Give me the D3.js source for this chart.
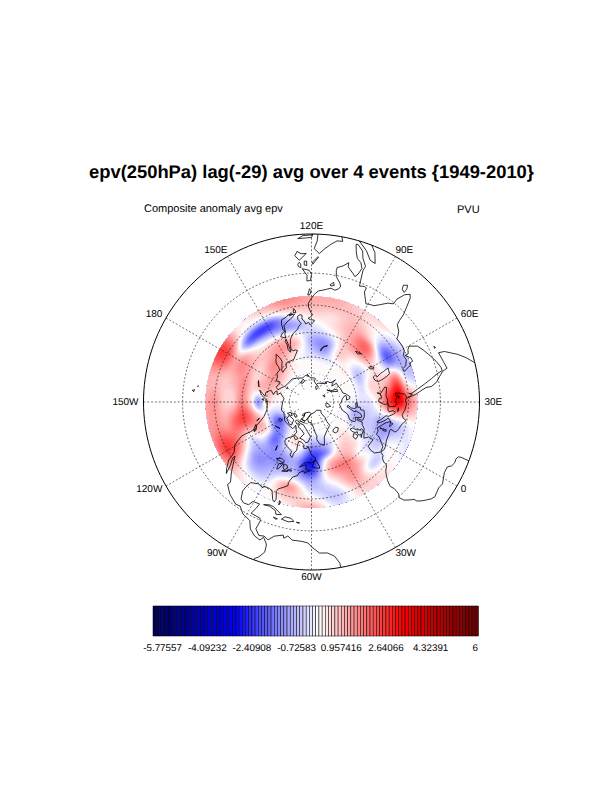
<![CDATA[<!DOCTYPE html>
<html><head><meta charset="utf-8">
<style>html,body{margin:0;padding:0;background:#fff}svg{display:block}text{font-family:"Liberation Sans",Arial,sans-serif;fill:#000;text-rendering:geometricPrecision}</style>
<script src="https://cdn.jsdelivr.net/npm/d3@7"></script></head><body>
<svg id="c" width="612" height="792"></svg>
<script>
const titleText = "epv(250hPa) lag(-29) avg over 4 events {1949-2010}";
const leftText = "Composite anomaly avg epv";
const rightText = "PVU";
const colorbarLabels = ["-5.77557","-4.09232","-2.40908","-0.72583","0.957416","2.64066","4.32391","6"];
const meridianLabels = [[120,"120E"],[90,"90E"],[60,"60E"],[30,"30E"],[0,"0"],[-30,"30W"],[-60,"60W"],[-90,"90W"],[-120,"120W"],[-150,"150W"],[180,"180"],[150,"150E"]];
const gridLats = [15,30,45,60,75];

// field rows: latitudes, columns: meridians listed clockwise from 120E
const fieldLats = [25,30,35,40,45,50,55,60,65,70];
const fieldLons = [120,105,90,75,60,45,30,15,0,-15,-30,-45,-60,-75,-90,-105,-120,-135,-150,-165,180,165,150,135];
const fieldValues = [
 [1.1,.9,.4,-.3,-.6,-1.0,-.7,-.3,.1,0],
 [1.0,.8,.4,.3,-.3,-1.2,-1.2,-.4,0,0],
 [.5,.6,.9,1.0,.8,.6,.5,-.1,0,0],
 [.5,-.1,.2,1.8,1.6,.3,0,.2,0,0],
 [-.4,-1.2,-2.0,-.3,.5,-.3,-.8,0,0,0],
 [-.7,-.3,1.8,1.0,.6,.5,-.4,-.1,0,0],
 [.7,1.8,3.2,2.5,.9,-.2,-.4,-.3,-.1,0],
 [0,-.4,-.8,-1.1,-.9,-.6,-.8,-1.0,-.3,0],
 [-.3,0,-.1,-.8,-.6,-.5,-.4,-.4,0,0],
 [.4,.2,-.6,.1,-.1,.4,.5,.4,0,0],
 [.4,.7,1.2,1.4,1.6,.9,.4,-.1,0,0],
 [-.4,-.7,-.3,.4,.9,.3,-1.5,-1.0,-.4,0],
 [1.1,.2,-.6,-1.2,-2.4,-2.9,-2.3,-1.3,-.5,0],
 [.1,.7,1.2,-.3,-.9,-1.1,-.4,.2,.1,0],
 [0,-.1,-.5,-.9,-1.3,-1.3,-.6,.1,.1,0],
 [.5,.2,-.7,-1.3,-1.2,-1.2,-1.8,-1.6,-1,-.2],
 [1.4,2.4,2.0,.8,-.2,.5,.6,-1.0,-2.0,-.8],
 [1.2,1.4,1.2,1.9,2.3,1.6,.5,-.3,-.6,-.3],
 [1.0,1.3,.6,.6,1.5,.5,-1.3,.5,.1,0],
 [1.0,.9,.7,1.0,1.4,.6,.8,.9,.5,.1],
 [2.4,2.3,1.1,1.4,1.0,.5,.8,1.2,.8,.1],
 [.3,-.1,-1.9,-.2,.6,.9,1.4,1.2,.6,.1],
 [.8,-.1,-2.3,-1.0,.7,1.3,.9,.5,.2,0],
 [1.5,.9,-.5,-1.2,.1,.8,.3,-.1,.1,0]
];

// coastlines, [lon,lat]
const coastAfrica = [[9.5,0],[9.7,3],[9.5,4],[8.5,4.5],[7,4.4],[5.5,5],[4.4,6.3],[2,6.3],[0,5.6],[-2,4.8],[-4,5.2],[-7.5,4.4],[-9,5],[-11.5,6.9],[-13.2,8.5],[-13.5,9.8],[-15,11],[-16.7,12.5],[-17.5,14.7],[-16.5,16],[-16.3,19],[-17,21],[-16,23.7],[-14.5,26],[-13,27.7],[-10,29.5],[-9.7,31.5],[-8.5,33.3],[-6.8,34],[-6,35.8],[-5.3,35.9],[-3,35.3],[-1,35.7],[3,36.8],[7,37],[10,37.3],[11,36.9],[10.3,34.5],[10.7,33.8],[13,32.9],[15.5,32.3],[19,30.3],[20,32],[22,32.9],[25,31.7],[29,31],[31,31.5],[32.3,31.2],[32.6,30],[33.5,28],[34,26.5],[35.7,23.9],[37.2,21],[37.4,18.5],[39,16],[41,14.5],[43.2,12.5],[44,10.5],[47,11.2],[51.2,11.9],[50.8,9.5],[48,5],[46,2.5],[43.5,0]];
const coastEurasia = [[32.6,30],[34.3,27.9],[34.9,29.5],[35,28],[37,25],[39,21.5],[41,18],[42.7,15],[43.5,12.7],[45,12.8],[48,14],[52,16],[55,17.5],[57.8,19],[59.8,22.5],[58.5,23.7],[56.5,24.5],[56.3,26.2],[54,24.2],[52,24],[51.5,25.9],[50.2,25.5],[50,26.7],[48.2,29.5],[50,30],[51,28],[54,26.6],[56.8,27],[59,25.5],[61.5,25.1],[66.5,25.4],[67.5,24],[69,22.5],[72,21],[72.8,19],[73.5,16],[75,12.5],[76.5,9],[77.5,8],[79,9.5],[80.3,13],[80.2,15.5],[82.3,16.7],[85,19.5],[87,21.3],[89,21.8],[91,22.5],[92.3,20.8],[94.3,18],[94.3,16],[95.5,15.8],[97.5,16.5],[98,14],[98.6,10],[98.3,8],[100.3,5.5],[101.3,3],[103.5,1.3],[104.2,1.4],[103.4,4],[102.3,6.2],[100.5,7.3],[99.3,9.3],[100,12],[100.9,13.4],[102,12.5],[104.8,10.4],[105,8.7],[106.8,10.4],[109.2,11.7],[109.3,13],[108.8,15.5],[106.5,18],[105.8,19.5],[106.8,20.8],[108.2,21.6],[110.3,21],[113.5,22.2],[116.5,23],[118.5,24.7],[120,26.5],[121.8,29],[121.8,31],[120.3,34],[119.3,35],[120.8,36.5],[122.4,37],[120.8,37.8],[118,38],[118.5,39.1],[121,40.8],[122,39.2],[124.3,40],[125,38.5],[126.5,37.2],[126.3,35],[127.5,34.7],[129.2,35.3],[129.4,37],[127.5,39.5],[129.7,41],[130.7,42.3],[132.5,43.2],[135.5,44.5],[138.5,47],[140.3,50],[141.3,53.2],[139,54.2],[137.2,54],[135.3,54.8],[139,57.2],[142.5,59.3],[147,59.3],[152.5,59],[154,59.5],[156,61.6],[160,61.9],[164,62.4],[163,60.7],[161.5,60.3],[158,58],[156,57],[155.6,54],[156.7,51],[158.5,52.8],[160,53.5],[162,55],[163,56.5],[163,58],[165,60],[170,60],[174,61.8],[179,62.5],[177.5,64.7],[179.5,65.5],[-175,64.5],[-172.5,64.5],[-170,66],[-175,67.5],[-180,69],[175,69.7],[170.5,69.8],[160,69.7],[152,71],[140,72.7],[133,71.5],[127,72.5],[129,71],[123,73.5],[113.5,73.6],[110,74],[113,75.5],[105,77.7],[100,76.4],[88,75.3],[80.5,73.5],[86,73.8],[80.5,72],[78,72.3],[74,71],[73,68],[72,71],[68,72.5],[67,69],[60,69],[55,68.5],[46,68],[43.5,66.3],[40,65],[38,64],[35,64.3],[33,66.5],[38,66.2],[41,66.5],[40,67.7],[35,69.3],[30,69.8],[25,71],[20,70],[15,68.5],[12.5,65.5],[10.5,64],[5.3,62],[5,60],[5.7,58.5],[7.5,58],[10.5,59.3],[11.3,58],[12.8,55.5],[14.3,55.5],[16.5,56.5],[18.5,59.5],[17.3,61],[21,64.5],[22,65.8],[25,65.5],[21.5,63],[21.3,60.8],[23,60],[28,60.5],[30,60],[28,59.5],[23.5,59.2],[24,57.5],[21,57],[21,55],[19,54.5],[14.3,53.9],[11,54],[10,54.8],[10.3,57.5],[8.2,57],[8.5,54],[6,53.5],[4.5,52.3],[3,51.2],[1.6,50.9],[-1.5,49.7],[-4.7,48.5],[-1.5,46.5],[-1.5,43.5],[-8,43.7],[-9.2,41],[-9,38.5],[-7,37],[-6,36.2],[-5.4,36.2],[-2,36.8],[0,38.7],[3,41.7],[3.5,43.3],[6.5,43.2],[8.8,44.4],[11,42.9],[14,41],[16,38.5],[15.8,38],[17,39],[18.3,40],[16.5,41],[13.5,43.6],[12.3,45.2],[13.7,45.6],[15.5,44],[19.5,41.5],[19.5,40],[21.5,37.5],[23,36.5],[24,38],[22.8,40],[24,40.8],[26.2,40.9],[29,41.1],[26.5,40],[27,37],[29,36.2],[31,36.8],[33,36.1],[36,36.8],[35.8,35],[34.9,32],[34,31.2],[32.6,31]];
const coastAmericas = [[-80,0],[-80,.5],[-78.8,1.5],[-77.3,3.8],[-77.5,6.5],[-77.9,7.2],[-79.5,9],[-80.5,7.5],[-83,8.2],[-85.7,10],[-87.5,13],[-91.5,14],[-94.5,16.2],[-96.5,15.7],[-101.5,17.5],[-105.5,20],[-105.3,21.7],[-109,25.5],[-112.5,29.5],[-114.7,31.7],[-114.5,30],[-112,27],[-110,23],[-112,24.7],[-115,28],[-116,30.5],[-117.2,32.7],[-120.5,34.5],[-122.5,37.7],[-124,40.3],[-124.2,43],[-124,46.2],[-124.7,48.4],[-122.5,48],[-123,49.3],[-127,51],[-130,54.5],[-133,57],[-137,58.8],[-140,59.8],[-145,60.4],[-149,60.5],[-151.5,59.3],[-150,61.1],[-153.5,59.5],[-158,56.5],[-163,54.9],[-160,57],[-157,58.8],[-162,59],[-165,61],[-166,62],[-161,64],[-165,64.5],[-168,65.6],[-162,66.5],[-166.5,68.3],[-163,69.5],[-157,71.3],[-150,70.5],[-141,69.7],[-135,69],[-128,70],[-124,69.5],[-115,68],[-108,68],[-95,68],[-94,71],[-90,69],[-86,67.5],[-88,64],[-94,61],[-94.5,58.8],[-92,57],[-87,56],[-82,55],[-82,52.5],[-79.5,51.3],[-79,54.5],[-77,56.5],[-78,60],[-78,62.4],[-74,62.3],[-70,61],[-69.5,58.8],[-66,58.8],[-64.5,60.3],[-62,57.5],[-60,55],[-56,53],[-56,51.5],[-60,50.2],[-65,50.2],[-67.5,49.3],[-70.5,47],[-65,49],[-64.5,47.5],[-65,46],[-61,45.8],[-65.8,43.8],[-66,45],[-67,45],[-70,43.7],[-70.7,42],[-74,40.6],[-75.3,38.5],[-76,37],[-75.7,35.3],[-77.8,34],[-81,32],[-81.5,30.5],[-80,26.8],[-80.5,25.2],[-81.7,26],[-82.8,28],[-84,30],[-86,30.4],[-89.5,30.2],[-89.5,29.2],[-93,29.7],[-97,28],[-97.7,25],[-97.7,22.3],[-96,19],[-94,18.2],[-91.5,18.7],[-90.5,21],[-87,21.5],[-87.5,19],[-88.5,16],[-84,15.8],[-83.3,14.8],[-83.7,11],[-81.5,9],[-79.5,9.5],[-77.5,8.6],[-75.5,10.7],[-72,12],[-71.5,10.8],[-70,12],[-68,10.6],[-64,10.5],[-61.5,10],[-60,8.5],[-57,6],[-54,5.8],[-51.5,4.3],[-50,1.5],[-50,0]];
const coastIslands = [
 [[-73,78.2],[-68,76],[-60,76],[-55,72],[-53,69],[-51,67],[-52,64.5],[-49,61.5],[-43.5,60],[-42,62],[-40,65],[-32,68],[-22,70],[-22,73],[-19,76],[-19,80],[-12,81.5],[-30,83.5],[-45,82.5],[-60,82],[-65,81],[-73,78.2]],
 [[-22.5,63.9],[-24,65.5],[-22,66.4],[-16,66.5],[-14,65],[-18.5,63.5],[-22.5,63.9]],
 [[-5.5,50],[-3,50.7],[1.3,51.2],[1.7,52.7],[0,53.3],[-1.5,55],[-2,56],[-2,57.6],[-5,58.6],[-6,56.8],[-5,54.8],[-3,54],[-4.5,53.3],[-5,52],[-3,51.4],[-5.5,50]],
 [[-6,52.2],[-6,54],[-7,55.2],[-10,54.2],[-10,52],[-6,52.2]],
 [[-59.3,47.7],[-57,51.5],[-55.5,51.5],[-53,48],[-53,46.7],[-56,47],[-59.3,47.7]],
 [[130.9,33.9],[135,33.5],[136.8,34.5],[140,35],[141,37],[141.5,40.5],[140.3,41.2],[139.8,38.5],[137,37],[133,35.5],[130.9,33.9]],
 [[130,33.3],[131.5,33],[131,31],[130,32],[130,33.3]],
 [[132.3,33.9],[134.5,34.2],[134,33.3],[132.8,32.8],[132.3,33.9]],
 [[140,41.5],[141.5,43.2],[141.8,45.4],[145.3,43.5],[143,42],[140,41.5]],
 [[142,46],[143.5,47],[143,49.5],[144,52],[143,54.3],[142,53],[142,50],[142,46]],
 [[120.2,23],[121,25],[122,25],[121,22],[120.2,23]],
 [[109,19.5],[110.5,20],[111,19.5],[109.5,18.2],[109,19.5]],
 [[120.5,18.3],[122.2,18.4],[122,16],[124,13],[121,13.8],[120,15.5],[120.5,18.3]],
 [[122,7],[125,9.5],[126.5,7.5],[125.5,6],[124,7],[122,7]],
 [[124.5,12.5],[125.5,12],[125.7,11],[125,10.3],[124.5,11],[124.5,12.5]],
 [[122,11.8],[123,11.5],[123,10],[122,10],[122,11.8]],
 [[117.2,8.4],[119.5,11.3],[119.5,10.3],[117.5,8.3],[117.2,8.4]],
 [[109,1.5],[111,1.7],[113,3.2],[115,5],[117,7],[119,5.2],[118,2.5],[117.8,0],[117,-1],[110,-1],[109,1.5]],
 [[95.3,5.6],[97.5,5.2],[100,2.5],[103.5,0],[104,-1],[100,-1],[97,2],[95.3,5.6]],
 [[119.5,0],[120,1.2],[124.8,1.4],[123,.5],[120,.3],[119.5,0]],
 [[79.8,9],[81.2,8.5],[81.8,7],[80.5,6],[79.8,7.5],[79.8,9]],
 [[-85,22],[-82.5,23],[-80,23],[-75,20.5],[-77.5,19.9],[-78.5,21.5],[-82,22.5],[-85,22]],
 [[-74.4,18.5],[-73,19.9],[-70,19.8],[-68.4,18.6],[-71,18],[-74.4,18.5]],
 [[-78.3,18.3],[-76.3,18.2],[-77,17.8],[-78.3,18.3]],
 [[-67.2,18.4],[-65.6,18.3],[-66,18],[-67.2,18.4]],
 [[-78,26.6],[-77.2,26.3],[-77.6,24.5],[-78,26.6]],
 [[-156,20],[-155,19.7],[-155.6,19],[-156,20]],
 [[-158,21.6],[-157.7,21.3],[-158.2,21.3],[-158,21.6]],
 [[12.5,38],[15.5,38.2],[15,36.7],[12.5,38]],
 [[8.3,41],[9.6,41],[9.5,39.2],[8.5,39],[8.3,41]],
 [[8.7,42.5],[9.5,43],[9.4,41.5],[8.7,42.5]],
 [[23.6,35.5],[26.2,35.2],[24.8,35],[23.6,35.5]],
 [[32.4,35],[34.5,35.6],[33.5,34.7],[32.4,35]],
 [[53.5,12.7],[54.5,12.6],[53.7,12.3],[53.5,12.7]],
 [[11,79],[16,80],[27,80],[22,78],[17,76.7],[11,79]],
 [[52,71],[56,74],[68,76.8],[60,75],[57,70.8],[52,71]],
 [[95,79],[100,81],[105,79],[100,78],[95,79]],
 [[138,75],[145,76],[150,75],[140,73.5],[138,75]],
 [[178.5,71],[-178,71.3],[-178,70.8],[178.5,71]],
 [[50,80.5],[60,81],[55,80],[50,80.5]],
 [[-62,66],[-65,63],[-68,62.5],[-72,64],[-78,64.5],[-73,68],[-80,70],[-88,71],[-88,73.5],[-80,73.7],[-72,71.5],[-68,70],[-62,67],[-62,66]],
 [[-117,70],[-105,68.8],[-101,69.5],[-105,73],[-118,72.5],[-117,70]],
 [[-125,72],[-118,73],[-115,74],[-123,74.5],[-125,72]],
 [[-90,76.5],[-78,76.5],[-75,78],[-62,82],[-70,83],[-90,81.5],[-87,79],[-90,76.5]],
 [[-92,75],[-80,75],[-80,76],[-90,76.5],[-92,75]],
 [[-100,73],[-93,72],[-90,74],[-100,74],[-100,73]],
 [[-117,75.5],[-106,75],[-105,76.3],[-116,76.5],[-117,75.5]],
 [[-95,79],[-88,79],[-90,81],[-93,81],[-95,79]],
 [[-87,65],[-80,64],[-83,62.5],[-87,64],[-87,65]],
 [[-128,50.8],[-125,50],[-123.5,48.4],[-125.5,48.9],[-128,50.8]],
 [[-133,54],[-131.8,53.5],[-131,52],[-133,54]],
 [[-154,58],[-152,58.3],[-153,57],[-154,58]],
 [[-172,52.5],[-168,53.5],[-166,54],[-170,52.7],[-172,52.5]]
];
const lakes = [
 [[47,45],[49,46.5],[52,46.8],[53,45],[51,44.5],[52.5,42],[53,40],[54,37],[50,37.4],[49,39],[47.7,42],[47,45]],
 [[29,41.2],[28,42.5],[28.5,44],[30.5,46.5],[33,46],[33.5,44.5],[36.5,45.2],[38,47],[37,45],[41.5,42],[41,41],[35,42],[31.5,41.2],[29,41.2]],
 [[58.5,44],[59,46],[61,46.7],[61,45],[58.5,44]],
 [[74,45],[76,46.7],[79,46.5],[78,46],[74,45]],
 [[104,51.6],[108,53],[110,55.8],[109.5,54],[106,52],[104,51.6]],
 [[-92,46.7],[-88,48.5],[-85,47.8],[-84.5,46.5],[-87,46.5],[-92,46.7]],
 [[-87.5,41.7],[-88,45],[-85,46],[-85,45],[-86.5,42],[-87.5,41.7]],
 [[-84,46],[-81,46],[-80,44.5],[-82,43],[-83.5,44],[-84,46]],
 [[-83.3,41.7],[-79,42.8],[-79,43],[-83,42.2],[-83.3,41.7]],
 [[-79.7,43.3],[-76.3,43.5],[-76.3,44.2],[-79,44],[-79.7,43.3]],
 [[-98,53.5],[-97,50.5],[-96.5,51],[-98,53.5]],
 [[-117,61],[-110,62.5],[-112,62],[-116,61],[-117,61]],
 [[-123,66],[-118,67],[-118,65.5],[-122,65],[-123,66]]
];

const svg = d3.select("#c");
const projection = d3.geoStereographic().rotate([60,-90]).scale(168).translate([311.5,402]).clipAngle(90).precision(.3);
const geo = d3.geoPath(projection);

// ---- colour levels
const boxCount = 102, levelStep = 1.68325/14, firstLevel = -5.77557-3*levelStep;
const ramp = d3.scaleLinear().domain([0,25.5,51.5,77.5,101]).range(["#00005a","#0000ff","#ffffff","#ff0000","#6a0000"]);
const levels = d3.range(1,boxCount).map(k=>firstLevel+(k-1)*levelStep);

// ---- smooth resampled surface for filled contours
const nLon=fieldLons.length, nLat=fieldLats.length, subX=8, subY=6;
const W=nLon*subX+4, H=(nLat-1)*subY+1;
const cr=(a,b,c,d,t)=>.5*(2*b+(c-a)*t+(2*a-5*b+4*c-d)*t*t+(3*b-a-3*c+d)*t*t*t);
const at=(i,j)=>fieldValues[((i%nLon)+nLon)%nLon][Math.max(0,Math.min(nLat-1,j))];
const surface=new Float64Array(W*H);
for(let y=0;y<H;y++)for(let x=0;x<W;x++){
  const u=x/subX,v=y/subY,i=Math.floor(u),j=Math.floor(v),s=u-i,t=v-j;
  const col=[-1,0,1,2].map(dj=>cr(at(i-1,j+dj),at(i,j+dj),at(i+1,j+dj),at(i+2,j+dj),s));
  surface[y*W+x]=cr(col[0],col[1],col[2],col[3],t);
}
const lonStep=(fieldLons[0]-fieldLons[1])/subX, latStep=(fieldLats[1]-fieldLats[0])/subY;
const planar=d3.geoPath(d3.geoTransform({point(x,y){
  const p=projection([fieldLons[0]-(x-.5)*lonStep, fieldLats[0]+(y-.5)*latStep]);
  this.stream.point(p[0],p[1]);
}}));
svg.append("clipPath").attr("id","fieldClip").append("path")
  .attr("d",geo(d3.geoCircle().center([0,90]).radius(90-25.6)()));
const fieldG=svg.append("g").attr("clip-path","url(#fieldClip)");
const thresholds=[-99].concat(levels);
const contourGen=d3.contours().size([W,H]).thresholds(thresholds);
fieldG.selectAll("path").data(contourGen(surface)).join("path")
  .attr("d",planar).attr("fill",(d,i)=>ramp(i)).attr("stroke","none");

// ---- coast
const coastG=svg.append("g").attr("fill","none").attr("stroke","#000").attr("stroke-width",.8).attr("stroke-linejoin","round");
[coastAfrica,coastEurasia,coastAmericas,...coastIslands,...lakes].forEach(line=>{
  coastG.append("path").attr("d",geo({type:"LineString",coordinates:line}));
});

// ---- graticule
const gridG=svg.append("g").attr("fill","none").attr("stroke","#222").attr("stroke-width",.65).attr("stroke-dasharray","1.9 1.9");
gridLats.forEach(lat=>gridG.append("path").attr("d",geo(d3.geoCircle().center([0,90]).radius(90-lat).precision(2)())));
meridianLabels.forEach(([lon])=>gridG.append("path").attr("d",geo({type:"LineString",coordinates:[[lon,0],[lon,80]]})));
svg.append("path").attr("d",geo({type:"Sphere"})).attr("fill","none").attr("stroke","#000").attr("stroke-width",1);

// ---- meridian labels
meridianLabels.forEach(([lon,txt])=>{
  const p=projection([lon,0]);
  const th=(120-lon)*Math.PI/180, sn=Math.sin(th), cs=Math.cos(th), abs=Math.abs(sn);
  const anchor=abs<.01?"middle":(sn>0?"start":"end");
  svg.append("text").attr("x",p[0]+Math.sign(sn)*10*(abs-.5)*(abs<.01?0:1)).attr("y",p[1]-cs*7.5)
    .attr("text-anchor",anchor).attr("dominant-baseline","central").attr("font-size",10).text(txt);
});

// ---- titles
svg.append("text").attr("x",311.5).attr("y",178).attr("text-anchor","middle").attr("font-size",18.37).attr("font-weight","bold").text(titleText);
svg.append("text").attr("x",144).attr("y",212).attr("font-size",11).text(leftText);
svg.append("text").attr("x",457).attr("y",213).attr("font-size",11).text(rightText);

// ---- colourbar
const barX=d3.scaleLinear().domain([0,boxCount]).range([153,478.5]);
svg.append("g").selectAll("rect").data(d3.range(boxCount)).join("rect")
  .attr("x",i=>barX(i)).attr("y",606).attr("width",i=>barX(i+1)-barX(i)).attr("height",30)
  .attr("fill",i=>ramp(i)).attr("stroke","#000").attr("stroke-width",.5);
svg.append("g").selectAll("text").data(colorbarLabels).join("text")
  .attr("x",(d,i)=>barX(3+14*i)).attr("y",648).attr("text-anchor","middle").attr("dominant-baseline","central")
  .attr("font-size",9.8).text(d=>d);
</script></body></html>]]>
